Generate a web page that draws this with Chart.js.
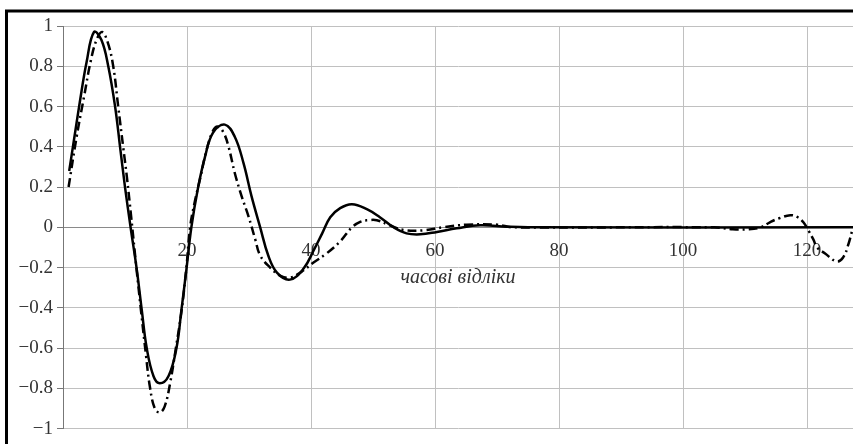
<!DOCTYPE html>
<html>
<head>
<meta charset="utf-8">
<script src="https://cdn.jsdelivr.net/npm/chart.js@4/dist/chart.umd.min.js"></script>
<style>
    html, body { margin: 0; padding: 0; background: #fff; }
    #wrap { position: relative; width: 853px; height: 444px; }
</style>
</head>
<body>
<div id="wrap"><canvas id="grafik"></canvas></div>
<script>
// Суцільна крива (відліки та значення)
const solidX = [1, 1.7, 2.7, 3.8, 5.0, 6.2, 7.3, 8.4, 9.2, 10.0, 10.9, 11.9, 12.7, 13.5, 14.6, 15.6, 17.0, 18.3, 19.1, 19.9, 20.7, 21.8, 22.9, 24.2, 26.1, 27.7, 29.1, 30.4, 31.8, 33.1, 34.5, 36.6, 38.8, 40.5, 41.8, 43.1, 44.7, 46.6, 49.0, 51.1, 53.3, 55.4, 57.6, 60.3, 63.5, 67.3, 71.6, 75, 127.4];
const solidY = [0.28, 0.42, 0.62, 0.82, 0.97, 0.93, 0.80, 0.60, 0.40, 0.20, 0.0, -0.21, -0.41, -0.60, -0.74, -0.775, -0.74, -0.60, -0.41, -0.21, 0.0, 0.20, 0.35, 0.47, 0.51, 0.45, 0.32, 0.155, 0.0, -0.14, -0.225, -0.26, -0.205, -0.11, -0.03, 0.05, 0.095, 0.115, 0.09, 0.05, 0.0, -0.03, -0.035, -0.023, -0.005, 0.01, 0.003, 0, 0];

// Штрихпунктирна крива
const dashX = [0.9, 2.2, 3.4, 4.5, 5.4, 6.3, 7.2, 8.1, 8.9, 9.7, 10.3, 11.0, 11.8, 12.6, 13.4, 14.0, 14.8, 15.6, 16.4, 17.3, 18.2, 19.1, 19.9, 20.5, 21.2, 22.1, 23.2, 24.2, 25.0, 25.9, 26.7, 27.7, 28.8, 29.9, 31.0, 31.8, 33.4, 35.0, 36.6, 38.5, 40.4, 42.5, 44.7, 46.6, 48.0, 49.2, 50.6, 52.7, 54.9, 58.1, 61.3, 65.1, 70.0, 72.6, 105, 108, 110.5, 112.5, 114.0, 115.5, 117.3, 118.5, 119.4, 120.3, 121.0, 121.6, 122.9, 124.8, 125.8, 126.6, 127.4];
const dashY = [0.2, 0.45, 0.65, 0.83, 0.93, 0.97, 0.92, 0.80, 0.60, 0.40, 0.25, 0.05, -0.19, -0.42, -0.64, -0.79, -0.90, -0.92, -0.89, -0.77, -0.60, -0.42, -0.20, 0.0, 0.12, 0.24, 0.39, 0.48, 0.50, 0.47, 0.40, 0.27, 0.155, 0.056, -0.06, -0.14, -0.20, -0.24, -0.25, -0.22, -0.175, -0.13, -0.07, 0.0, 0.028, 0.035, 0.035, 0.01, -0.013, -0.015, 0.0, 0.013, 0.013, 0.0, 0.0, -0.01, -0.01, 0.0, 0.025, 0.045, 0.06, 0.05, 0.025, -0.02, -0.06, -0.10, -0.13, -0.17, -0.15, -0.09, 0.0];

// Підписи осей
const xTitle = 'часові відліки';
const xTickStep = 20;
const yTickStep = 0.2;

function toPoints(xs, ys) {
    return xs.map((x, i) => ({ x: x, y: ys[i] }));
}

// Рамка зліва та зверху, як на скриншоті
const framePlugin = {
    id: 'frame',
    afterDraw(chart) {
        const ctx = chart.ctx;
        ctx.save();
        ctx.strokeStyle = '#000';
        ctx.lineWidth = 3;
        ctx.beginPath();
        ctx.moveTo(6.5, 444);
        ctx.lineTo(6.5, 11);
        ctx.lineTo(853, 11);
        ctx.stroke();
        ctx.restore();
    }
};

const serif = 'Liberation Serif, "Times New Roman", serif';

new Chart(document.getElementById('grafik').getContext('2d'), {
    type: 'line',
    data: {
        datasets: [
            {
                data: toPoints(solidX, solidY),
                borderColor: '#000',
                borderWidth: 2.5,
                pointRadius: 0,
                tension: 0.4,
                fill: false
            },
            {
                data: toPoints(dashX, dashY),
                borderColor: '#000',
                borderWidth: 2.5,
                borderDash: [9, 4, 2, 4],
                pointRadius: 0,
                tension: 0.4,
                fill: false
            }
        ]
    },
    options: {
        responsive: true,
        maintainAspectRatio: false,
        animation: false,
        layout: { padding: { top: 26, right: 0, bottom: 14, left: 0 } },
        plugins: {
            legend: { display: false },
            tooltip: { enabled: false }
        },
        scales: {
            x: {
                type: 'linear',
                min: 0,
                max: 127.4,
                position: { y: 0 },
                grid: { color: '#c0c0c0', lineWidth: 1, drawTicks: false },
                border: { color: '#8a8a8a', width: 1 },
                ticks: {
                    stepSize: xTickStep,
                    includeBounds: false,
                    padding: 12,
                    color: '#333',
                    font: { family: serif, size: 19 },
                    maxRotation: 0,
                    callback: v => (v === 0 ? '' : String(v))
                },
                title: {
                    display: true,
                    text: xTitle,
                    color: '#333',
                    padding: { top: -8, bottom: 0 },
                    font: { family: serif, size: 20, style: 'italic' }
                }
            },
            y: {
                min: -1,
                max: 1,
                grid: { color: '#c0c0c0', lineWidth: 1, tickLength: 6, tickColor: '#777' },
                border: { color: '#777', width: 1 },
                ticks: {
                    stepSize: yTickStep,
                    padding: 4,
                    color: '#333',
                    font: { family: serif, size: 19 },
                    callback: v => {
                        const r = Math.round(v * 10) / 10;
                        if (Math.abs(r) < 1e-9) return '0';
                        return String(r).replace('-', '\u2212');
                    }
                },
                afterFit(scale) { scale.width = 63; }
            }
        }
    },
    plugins: [framePlugin]
});
</script>
</body>
</html>
